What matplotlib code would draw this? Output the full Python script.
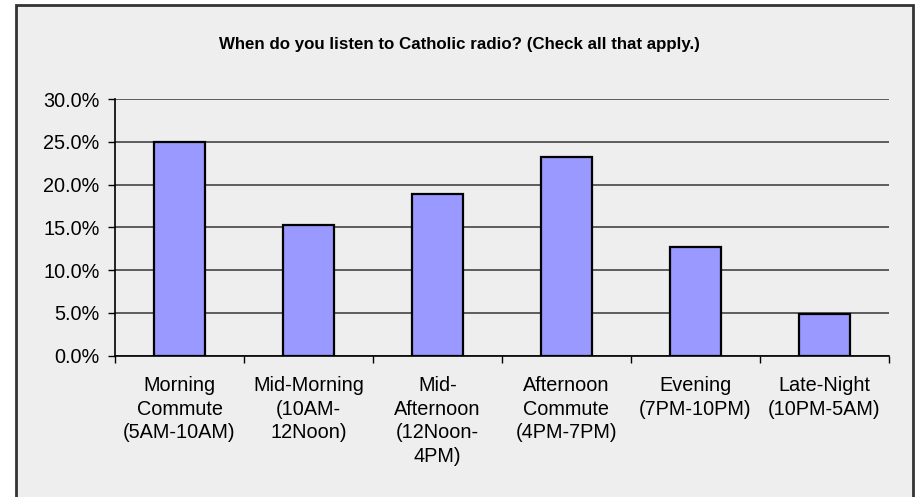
import matplotlib
matplotlib.use("Agg")
import matplotlib.pyplot as plt
from matplotlib.patches import Rectangle
from matplotlib.ticker import FuncFormatter, FixedLocator

plt.rcParams['font.family'] = ['Liberation Sans', 'DejaVu Sans']

title = "When do you listen to Catholic radio? (Check all that apply.)"
categories = ["Morning\nCommute\n(5AM-10AM)", "Mid-Morning\n(10AM-\n12Noon)",
              "Mid-\nAfternoon\n(12Noon-\n4PM)", "Afternoon\nCommute\n(4PM-7PM)",
              "Evening\n(7PM-10PM)", "Late-Night\n(10PM-5AM)"]
values = [25.0, 15.3, 18.9, 23.2, 12.7, 4.8]
yticks = [0, 5, 10, 15, 20, 25, 30]

W, H = 917, 497
fig = plt.figure(figsize=(W / 100, H / 100), dpi=100)
fig.patch.set_facecolor('white')

# outer chart frame
frame = Rectangle((16 / W, -0.1), (913 - 16) / W, (H - 5) / H + 0.1,
                  transform=fig.transFigure, facecolor='#EEEEEE',
                  edgecolor='#333333', linewidth=2, zorder=-10)
fig.patches.append(frame)

left, right, top, bottom = 115, 889, 99, 355.5
ax = fig.add_axes([left / W, (H - bottom) / H, (right - left) / W, (bottom - top) / H])
ax.set_facecolor('#EEEEEE')
ax.patch.set_alpha(0)

x = list(range(len(categories)))
ax.bar(x, values, width=0.4, color='#9999FF', edgecolor='black', linewidth=1.6, zorder=3)
ax.set_xlim(-0.5, len(categories) - 0.5)
ax.set_ylim(0, 30)

ax.yaxis.set_major_locator(FixedLocator(yticks))
ax.yaxis.set_major_formatter(FuncFormatter(lambda v, p: f"{v:.1f}%"))
ax.grid(axis='y', color='#444444', linewidth=1.2, zorder=1)
ax.tick_params(axis='y', labelsize=14.3, length=5, width=1, color='black', pad=6)

ax.set_xticks(x)
ax.set_xticklabels(categories, linespacing=1.3)
ax.xaxis.set_minor_locator(FixedLocator([i - 0.5 for i in range(len(categories) + 1)]))
ax.tick_params(axis='x', which='major', length=0, labelsize=14.3, pad=15)
ax.tick_params(axis='x', which='minor', length=5, width=1, color='black')

for s in ['top', 'right']:
    ax.spines[s].set_visible(False)
ax.spines['left'].set_color('black')
ax.spines['bottom'].set_color('black')
ax.spines['left'].set_linewidth(1.2)
ax.spines['bottom'].set_linewidth(1.2)

fig.text((217 + 701) / 2 / W, 1 - 45 / H, title, ha='center', va='center',
         fontsize=12.2, fontweight='bold')

fig.savefig("out.png", dpi=100)
